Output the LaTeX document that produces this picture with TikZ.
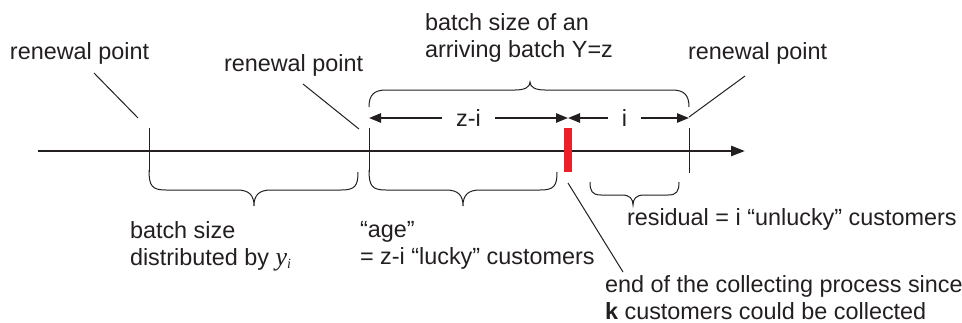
\documentclass[tikz,border=0pt]{standalone}
\usepackage{fontspec}
\setmainfont{Liberation Sans}
\newfontfamily\timesf{Liberation Serif}
\usetikzlibrary{arrows.meta}
\definecolor{ink}{RGB}{35,31,32}
\definecolor{barred}{RGB}{236,32,40}
\begin{document}
\begin{tikzpicture}[x=0.5pt,y=-0.5pt,
  every node/.style={inner sep=0pt,outer sep=0pt,text=ink,font=\fontsize{11.7}{13.5}\selectfont},
  thin line/.style={draw=ink,line width=0.5pt},
  axisline/.style={draw=ink,line width=1.3pt,-{Triangle[length=7pt,width=5pt]}},
  dimarrow/.style={draw=ink,line width=1pt,{Triangle[length=6pt,width=4.6pt]}-{Triangle[length=6pt,width=4.6pt]}},
  lbl/.style={anchor=base west,align=left}]
\useasboundingbox (0,0) rectangle (962,322);
% axis
\coordinate (a0) at (38,151);
\coordinate (a1) at (745,151);
\draw[axisline] (a0) -- (a1);
% ticks
\coordinate (t1top) at (149,128); \coordinate (t1bot) at (149,172);
\coordinate (t2top) at (369,128); \coordinate (t2bot) at (369,172);
\coordinate (t3top) at (689,128); \coordinate (t3bot) at (689,173);
\draw[thin line] (t1top) -- (t1bot);
\draw[thin line] (t2top) -- (t2bot);
\draw[thin line] (t3top) -- (t3bot);
% red bar
\fill[barred] (564,128) rectangle (572,172);
% bottom brace 1
\draw[thin line] (149,170) .. controls (149,186) and (152,190) .. (166,190) -- (237,190)
  .. controls (249,190) and (254,195) .. (254,206)
  .. controls (254,195) and (259,190) .. (271,190) -- (341,190)
  .. controls (355,190) and (358,186) .. (358,172);
% bottom brace 2
\draw[thin line] (369,170) .. controls (369,186) and (372,190) .. (386,190) -- (446,190)
  .. controls (458,190) and (463,195) .. (463,206)
  .. controls (463,195) and (468,190) .. (480,190) -- (540,190)
  .. controls (554,190) and (557,186) .. (557,172);
% small brace
\draw[thin line] (590,182) .. controls (590,191) and (592,195) .. (601,195) -- (622,195)
  .. controls (630,195) and (633,199) .. (633,205)
  .. controls (633,199) and (636,195) .. (644,195) -- (668,195)
  .. controls (677,195) and (679,191) .. (679,182);
% top brace
\draw[thin line] (369,107) .. controls (369,95) and (374,90) .. (386,90) -- (515,90)
  .. controls (525,90) and (530,87) .. (530,82)
  .. controls (530,87) and (535,90) .. (545,90) -- (672,90)
  .. controls (684,90) and (689,95) .. (689,107);
% dimension arrows
\coordinate (d0) at (369,118);
\coordinate (d1) at (568,118);
\coordinate (d2) at (689,118);
\draw[dimarrow] (d1) -- node[fill=white,inner xsep=7pt,inner ysep=2pt] (zi) {z-i} (d0);
\draw[dimarrow] (d1) -- node[pos=0.5,fill=white,inner xsep=7pt,inner ysep=2pt,xshift=-2pt] (ii) {i} (d2);
% texts (base = baseline of last line)
\node[lbl] (rp1) at (10,59) {renewal point};
\node[lbl] (rp2) at (224,71) {renewal point};
\node[lbl] (rp3) at (688,59) {renewal point};
\node[lbl] (top) at (425,57) {batch size of an\\arriving batch Y=z};
\node[lbl] (bs) at (130,265) {batch size\\distributed by {\timesf\itshape\fontsize{13}{13}\selectfont y\textsubscript{\scriptsize i}}};
\node[lbl] (age) at (360,264) {“age”\\= z-i “lucky” customers};
\node[lbl] (res) at (627,225) {residual = i “unlucky” customers};
\node[lbl] (end) at (605,319) {end of the collecting process since\\\textbf{k} customers could be collected};
% leaders
\coordinate (l1a) at (94,73); \coordinate (l1b) at (138,118);
\coordinate (l2a) at (303,84); \coordinate (l2b) at (359,129);
\coordinate (l3a) at (689,117); \coordinate (l3b) at (745,76);
\coordinate (l4a) at (568,183); \coordinate (l4b) at (623,272);
\draw[thin line] (l1a) -- (l1b);
\draw[thin line] (l2a) -- (l2b);
\draw[thin line] (l3a) -- (l3b);
\draw[thin line] (l4a) -- (l4b);
\end{tikzpicture}
\end{document}
